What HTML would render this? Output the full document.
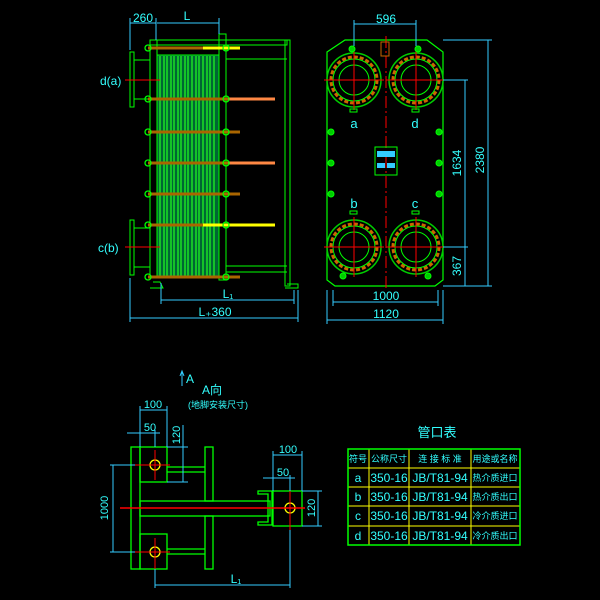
<!DOCTYPE html>
<html><head><meta charset="utf-8"><style>
html,body{margin:0;padding:0;background:#000;width:600px;height:600px;overflow:hidden}
svg{display:block}
text{font-family:"Liberation Sans","Noto Sans CJK SC",sans-serif;fill:#3ff}
</style></head><body>
<svg width="600" height="600" viewBox="0 0 600 600" xmlns="http://www.w3.org/2000/svg">
<rect width="600" height="600" fill="#000"/>
<defs>
<g id="fl">
 <circle r="27" fill="none" stroke="#0c0" stroke-width="1.5"/>
 <circle r="23" fill="none" stroke="#c60" stroke-width="3" stroke-dasharray="4 2"/>
 <circle r="21" fill="none" stroke="#0f0" stroke-width="1"/>
 <circle r="15" fill="none" stroke="#0f0" stroke-width="1"/>
 <line x1="-30" y1="0" x2="30" y2="0" stroke="#f00" stroke-width="1"/>
 <line x1="0" y1="-30" x2="0" y2="30" stroke="#f00" stroke-width="1"/>
</g>
<g id="bolt"><circle r="3" fill="#0c0" stroke="#0f0"/></g>
</defs>

<!-- SIDE VIEW -->
<g stroke="#0f0" fill="none" stroke-width="1">
 <rect x="150" y="40" width="137" height="5"/>
 <line x1="226" y1="59" x2="287" y2="59"/>
 <line x1="226" y1="266" x2="287" y2="266"/>
 <line x1="226" y1="272" x2="287" y2="272"/>
 <rect x="285" y="40" width="5" height="246"/>
 <rect x="150" y="40" width="7" height="238"/>
 <rect x="219" y="34" width="7" height="246"/>
 <rect x="157" y="55" width="62" height="222" fill="#063"/>
 <rect x="130" y="52" width="4" height="55"/>
 <rect x="130" y="220" width="4" height="55"/>
 <line x1="134" y1="60" x2="150" y2="60"/><line x1="134" y1="99" x2="150" y2="99"/>
 <line x1="134" y1="228" x2="150" y2="228"/><line x1="134" y1="267" x2="150" y2="267"/>
 <path d="M153 282 L160 282 L163 288 L150 288"/>
 <path d="M287 284 L298 284 L298 288 L285 288"/>
</g>
<g stroke="#2f2" stroke-width="1.2">
 <line x1="160" y1="56" x2="160" y2="276"/><line x1="164" y1="56" x2="164" y2="276"/>
 <line x1="167" y1="56" x2="167" y2="276"/><line x1="171" y1="56" x2="171" y2="276"/>
 <line x1="174" y1="56" x2="174" y2="276"/><line x1="178" y1="56" x2="178" y2="276"/>
 <line x1="181" y1="56" x2="181" y2="276"/><line x1="185" y1="56" x2="185" y2="276"/>
 <line x1="188" y1="56" x2="188" y2="276"/><line x1="192" y1="56" x2="192" y2="276"/>
 <line x1="196" y1="56" x2="196" y2="276"/><line x1="199" y1="56" x2="199" y2="276"/>
 <line x1="203" y1="56" x2="203" y2="276"/><line x1="207" y1="56" x2="207" y2="276"/>
 <line x1="210" y1="56" x2="210" y2="276"/><line x1="214" y1="56" x2="214" y2="276"/>
</g>
<!-- tie bolts -->
<g stroke-width="3">
 <line x1="148" y1="48" x2="240" y2="48" stroke="#a60"/><line x1="203" y1="48" x2="240" y2="48" stroke="#ff0"/>
 <line x1="148" y1="99" x2="275" y2="99" stroke="#a60"/><line x1="228" y1="99" x2="275" y2="99" stroke="#f84"/>
 <line x1="148" y1="132" x2="240" y2="132" stroke="#a60"/>
 <line x1="148" y1="163" x2="275" y2="163" stroke="#a60"/><line x1="228" y1="163" x2="275" y2="163" stroke="#f84"/>
 <line x1="148" y1="194" x2="240" y2="194" stroke="#a60"/>
 <line x1="148" y1="225" x2="275" y2="225" stroke="#a60"/><line x1="203" y1="225" x2="275" y2="225" stroke="#ff0"/>
 <line x1="148" y1="277" x2="240" y2="277" stroke="#a60"/>
</g>
<g fill="none" stroke="#0f0" stroke-width="1.3">
 <circle cx="148" cy="48" r="3"/><circle cx="226" cy="48" r="3"/>
 <circle cx="148" cy="99" r="3"/><circle cx="226" cy="99" r="3"/>
 <circle cx="148" cy="132" r="3"/><circle cx="226" cy="132" r="3"/>
 <circle cx="148" cy="163" r="3"/><circle cx="226" cy="163" r="3"/>
 <circle cx="148" cy="194" r="3"/><circle cx="226" cy="194" r="3"/>
 <circle cx="148" cy="225" r="3"/><circle cx="226" cy="225" r="3"/>
 <circle cx="148" cy="277" r="3"/><circle cx="226" cy="277" r="3"/>
</g>
<g stroke="#f00" stroke-width="1">
 <line x1="125" y1="80" x2="160" y2="80"/><line x1="125" y1="247" x2="160" y2="247"/>
</g>
<g stroke="#3cf" stroke-width="1" fill="none">
 <line x1="130" y1="23" x2="156" y2="23"/><line x1="157" y1="23" x2="219" y2="23"/>
 <line x1="130" y1="18" x2="130" y2="50"/><line x1="156" y1="18" x2="156" y2="40"/><line x1="219" y1="18" x2="219" y2="34"/>
 <line x1="161" y1="300" x2="294" y2="300"/><line x1="161" y1="283" x2="161" y2="304"/><line x1="294" y1="290" x2="294" y2="304"/>
 <line x1="130" y1="318" x2="298" y2="318"/><line x1="130" y1="278" x2="130" y2="322"/><line x1="298" y1="290" x2="298" y2="322"/>
</g>
<text x="143" y="22" font-size="12" text-anchor="middle">260</text>
<text x="187" y="20" font-size="12" text-anchor="middle">L</text>
<text x="228" y="298" font-size="12" text-anchor="middle">L₁</text>
<text x="215" y="316" font-size="12" text-anchor="middle">L₊360</text>
<text x="100" y="85" font-size="12">d(a)</text>
<text x="98" y="252" font-size="12">c(b)</text>

<!-- FRONT VIEW -->
<path d="M327 52 L345 40 L427 40 L443 52 L443 280 L435 286 L335 286 L327 280 Z" fill="none" stroke="#0f0" stroke-width="1.2"/>
<use href="#fl" x="354" y="80"/><use href="#fl" x="416" y="80"/>
<use href="#fl" x="354" y="247"/><use href="#fl" x="416" y="247"/>
<line x1="386" y1="36" x2="386" y2="290" stroke="#f00" stroke-dasharray="12 3 2 3"/>
<g fill="#0c0" stroke="#0f0">
 <circle cx="331" cy="132" r="3"/><circle cx="331" cy="163" r="3"/><circle cx="331" cy="194" r="3"/>
 <circle cx="439" cy="132" r="3"/><circle cx="439" cy="163" r="3"/><circle cx="439" cy="194" r="3"/>
 <circle cx="352" cy="49" r="3"/><circle cx="418" cy="49" r="3"/>
 <circle cx="343" cy="276" r="3"/><circle cx="428" cy="276" r="3"/>
</g>
<rect x="375" y="147" width="22" height="28" fill="none" stroke="#0f0"/>
<rect x="377" y="151" width="18" height="6" fill="#3cf"/>
<rect x="377" y="163" width="8" height="5" fill="#3cf"/><rect x="387" y="163" width="8" height="5" fill="#3cf"/>
<rect x="381" y="42" width="8" height="14" fill="none" stroke="#c60"/>
<g fill="none" stroke="#0f0"><rect x="350" y="109" width="7" height="3"/><rect x="412" y="109" width="7" height="3"/>
<rect x="350" y="211" width="7" height="3"/><rect x="412" y="211" width="7" height="3"/></g>
<text x="354" y="128" font-size="13" text-anchor="middle">a</text>
<text x="415" y="128" font-size="13" text-anchor="middle">d</text>
<text x="354" y="208" font-size="13" text-anchor="middle">b</text>
<text x="415" y="208" font-size="13" text-anchor="middle">c</text>
<g stroke="#3cf" fill="none">
 <line x1="354" y1="24" x2="416" y2="24"/><line x1="354" y1="20" x2="354" y2="46"/><line x1="416" y1="20" x2="416" y2="46"/>
 <line x1="443" y1="40" x2="492" y2="40"/><line x1="488" y1="40" x2="488" y2="286"/><line x1="443" y1="286" x2="492" y2="286"/>
 <line x1="443" y1="80" x2="468" y2="80"/><line x1="465" y1="80" x2="465" y2="286"/><line x1="443" y1="247" x2="468" y2="247"/>
 <line x1="333" y1="302" x2="438" y2="302"/><line x1="333" y1="290" x2="333" y2="306"/><line x1="438" y1="290" x2="438" y2="306"/>
 <line x1="327" y1="320" x2="443" y2="320"/><line x1="327" y1="290" x2="327" y2="324"/><line x1="443" y1="290" x2="443" y2="324"/>
</g>
<text x="386" y="23" font-size="12" text-anchor="middle">596</text>
<text x="386" y="300" font-size="12" text-anchor="middle">1000</text>
<text x="386" y="318" font-size="12" text-anchor="middle">1120</text>
<text transform="translate(484,160) rotate(-90)" font-size="12" text-anchor="middle">2380</text>
<text transform="translate(461,163) rotate(-90)" font-size="12" text-anchor="middle">1634</text>
<text transform="translate(461,266) rotate(-90)" font-size="12" text-anchor="middle">367</text>

<!-- FOUNDATION DETAIL -->
<g fill="none" stroke="#0f0" stroke-width="1.3">
 <rect x="131" y="447" width="9" height="122"/>
 <rect x="140" y="447" width="27" height="35"/>
 <rect x="140" y="534" width="27" height="35"/>
 <line x1="167" y1="467" x2="205" y2="467"/><line x1="167" y1="472" x2="205" y2="472"/>
 <line x1="167" y1="549" x2="205" y2="549"/><line x1="167" y1="554" x2="205" y2="554"/>
 <rect x="205" y="447" width="8" height="54"/><rect x="205" y="516" width="8" height="53"/>
 <rect x="140" y="501" width="130" height="15"/>
 <path d="M272 491 L258 491 L258 494 L268 494 L268 522 L258 522 L258 525 L272 525 Z"/>
 <rect x="273" y="491" width="29" height="35"/>
 <circle cx="155" cy="465" r="5" stroke="#ff0"/><circle cx="155" cy="552" r="5" stroke="#ff0"/>
 <circle cx="290" cy="508" r="5" stroke="#ff0"/>
</g>
<g stroke="#f00">
 <line x1="120" y1="508" x2="305" y2="508" stroke-width="1.5"/>
 <line x1="135" y1="465" x2="170" y2="465"/><line x1="155" y1="450" x2="155" y2="480"/>
 <line x1="135" y1="552" x2="170" y2="552"/><line x1="155" y1="538" x2="155" y2="572"/>
 <line x1="290" y1="490" x2="290" y2="530"/><line x1="278" y1="508" x2="305" y2="508"/>
</g>
<g stroke="#3cf" fill="none">
 <line x1="113" y1="465" x2="113" y2="552"/><line x1="110" y1="465" x2="135" y2="465"/><line x1="110" y1="552" x2="135" y2="552"/>
 <line x1="140" y1="410" x2="167" y2="410"/><line x1="140" y1="406" x2="140" y2="447"/><line x1="167" y1="406" x2="167" y2="447"/>
 <line x1="127" y1="433" x2="160" y2="433"/><line x1="155" y1="430" x2="155" y2="447"/>
 <line x1="183" y1="425" x2="183" y2="482"/><line x1="167" y1="447" x2="188" y2="447"/><line x1="167" y1="482" x2="188" y2="482"/>
 <line x1="273" y1="455" x2="302" y2="455"/><line x1="273" y1="451" x2="273" y2="491"/><line x1="302" y1="451" x2="302" y2="491"/>
 <line x1="263" y1="478" x2="295" y2="478"/><line x1="290" y1="475" x2="290" y2="491"/>
 <line x1="318" y1="491" x2="318" y2="526"/><line x1="302" y1="491" x2="322" y2="491"/><line x1="302" y1="526" x2="322" y2="526"/>
 <line x1="155" y1="569" x2="155" y2="588"/><line x1="290" y1="530" x2="290" y2="588"/>
 <line x1="155" y1="585" x2="290" y2="585"/>
 <line x1="182" y1="386" x2="182" y2="372"/><path d="M180 376 L182 371 L184 376"/>
</g>
<text x="108" y="508" font-size="11" text-anchor="middle" transform="rotate(-90 108 508)">1000</text>
<text x="153" y="408" font-size="11" text-anchor="middle">100</text>
<text x="150" y="431" font-size="11" text-anchor="middle">50</text>
<text transform="translate(180,435) rotate(-90)" font-size="11" text-anchor="middle">120</text>
<text x="288" y="453" font-size="11" text-anchor="middle">100</text>
<text x="283" y="476" font-size="11" text-anchor="middle">50</text>
<text transform="translate(315,508) rotate(-90)" font-size="11" text-anchor="middle">120</text>
<text x="236" y="583" font-size="12" text-anchor="middle">L₁</text>
<text x="186" y="383" font-size="12">A</text>
<text x="212" y="394" font-size="12" text-anchor="middle">A向</text>
<text x="218" y="408" font-size="9" text-anchor="middle">(地脚安装尺寸)</text>

<!-- TABLE -->
<text x="437" y="437" font-size="13" text-anchor="middle">管口表</text>
<g stroke="#ff0" stroke-width="1">
 <line x1="348" y1="468" x2="520" y2="468"/><line x1="348" y1="487" x2="520" y2="487"/>
 <line x1="348" y1="506" x2="520" y2="506"/><line x1="348" y1="526" x2="520" y2="526"/>
 <line x1="369" y1="449" x2="369" y2="545"/><line x1="409" y1="449" x2="409" y2="545"/>
 <line x1="471" y1="449" x2="471" y2="545"/>
</g>
<rect x="348" y="449" width="172" height="96" fill="none" stroke="#0f0" stroke-width="1.5"/>
<g font-size="9" text-anchor="middle">
 <text x="358" y="462">符号</text><text x="389" y="462">公称尺寸</text><text x="440" y="462">连 接 标 准</text><text x="495" y="462">用途或名称</text>
</g>
<g font-size="12" text-anchor="middle">
 <text x="358" y="482">a</text><text x="389" y="482">350-16</text><text x="440" y="482">JB/T81-94</text>
 <text x="358" y="501">b</text><text x="389" y="501">350-16</text><text x="440" y="501">JB/T81-94</text>
 <text x="358" y="520">c</text><text x="389" y="520">350-16</text><text x="440" y="520">JB/T81-94</text>
 <text x="358" y="540">d</text><text x="389" y="540">350-16</text><text x="440" y="540">JB/T81-94</text>
</g>
<g font-size="9" text-anchor="middle">
 <text x="495" y="481">热介质进口</text><text x="495" y="500">热介质出口</text>
 <text x="495" y="519">冷介质进口</text><text x="495" y="539">冷介质出口</text>
</g>
</svg>
</body></html>
